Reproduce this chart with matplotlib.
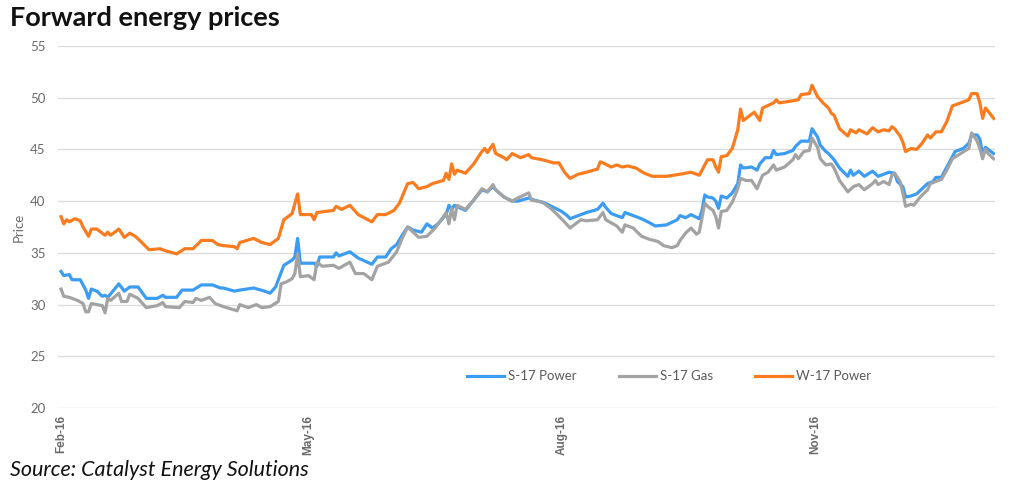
import pandas as pd
import matplotlib
matplotlib.use("Agg")
import matplotlib.pyplot as plt
import matplotlib.dates as mdates

# days counted from 1 Feb 2016
s17_power_day = [0, 1, 3, 4, 7, 9, 10, 11, 13, 15, 16, 17, 21, 23, 25, 28, 31, 35, 37, 38, 42, 44, 48, 51, 55, 58, 59,
                 63, 65, 70, 74, 76, 78, 81, 84, 85, 86, 87, 92, 93, 94, 99, 100, 101, 105, 108, 113, 115, 116, 118,
                 120, 122, 124, 126, 128, 131, 133, 135, 137, 140, 141, 142, 143, 147, 150, 153, 155, 157, 158, 161,
                 164, 166, 170, 172, 175, 176, 179, 182, 184, 185, 188, 191, 195, 197, 198, 200, 204, 205, 208, 211,
                 214, 216, 220, 224, 225, 227, 229, 232, 233, 234, 235, 237, 238, 239, 240, 242, 244, 246, 247, 248,
                 251, 253, 254, 256, 258, 259, 260, 263, 266, 267, 269, 272, 273, 275, 276, 278, 279, 281, 283, 286,
                 287, 288, 290, 292, 295, 297, 299, 301, 303, 304, 306, 307, 309, 311, 313, 315, 317, 318, 320, 322,
                 324, 325, 328, 330, 331, 333, 334, 335, 336, 337, 339]
s17_power = [33.2, 32.8, 32.9, 32.4, 32.4, 31.4, 30.6, 31.5, 31.3, 30.8, 30.9, 30.7, 32.0, 31.3, 31.7, 31.7, 30.6, 30.6,
             30.9, 30.7, 30.7, 31.4, 31.4, 31.9, 31.9, 31.6, 31.6, 31.3, 31.4, 31.6, 31.3, 31.1, 31.7, 33.8, 34.3,
             34.6, 36.4, 34.0, 34.0, 33.7, 34.6, 34.6, 35.0, 34.7, 35.1, 34.5, 33.9, 34.6, 34.6, 34.6, 35.4, 35.8,
             36.7, 37.5, 37.2, 37.0, 37.8, 37.4, 37.8, 38.7, 39.6, 39.2, 39.6, 39.1, 40.1, 41.1, 40.9, 41.4, 41.1,
             40.4, 40.0, 40.0, 40.3, 40.1, 39.9, 39.8, 39.4, 39.0, 38.6, 38.3, 38.6, 38.9, 39.2, 39.8, 39.4, 38.8,
             38.4, 38.9, 38.6, 38.3, 37.9, 37.6, 37.7, 38.2, 38.6, 38.4, 38.7, 38.3, 39.1, 40.6, 40.4, 40.3, 40.0,
             39.3, 40.5, 40.3, 40.8, 41.7, 43.5, 43.2, 43.3, 43.0, 43.6, 44.2, 44.2, 44.9, 44.5, 44.6, 44.9, 45.3,
             45.8, 45.8, 47.0, 46.2, 45.4, 44.8, 44.6, 44.0, 43.2, 42.4, 43.0, 42.5, 42.9, 42.4, 42.9, 42.4, 42.6,
             42.8, 42.7, 41.9, 41.4, 40.4, 40.5, 40.7, 41.2, 41.7, 41.9, 42.3, 42.3, 43.3, 44.3, 44.8, 45.1, 45.6,
             46.4, 46.4, 46.0, 44.5, 45.2, 45.0, 44.6]

s17_gas_day = [0, 1, 3, 6, 8, 9, 10, 11, 13, 15, 16, 17, 18, 21, 22, 24, 25, 28, 31, 35, 37, 38, 43, 45, 48, 49, 51,
               54, 56, 59, 64, 65, 68, 71, 73, 76, 79, 80, 82, 84, 85, 86, 87, 90, 92, 93, 95, 99, 101, 105, 107,
               110, 113, 115, 116, 118, 119, 122, 124, 126, 130, 133, 136, 139, 140, 141, 142, 143, 144, 147, 150,
               153, 155, 157, 158, 161, 164, 166, 170, 171, 175, 178, 180, 183, 185, 187, 189, 191, 195, 197, 198,
               202, 204, 205, 208, 211, 214, 217, 219, 222, 224, 225, 227, 229, 231, 232, 234, 235, 237, 238, 239,
               240, 242, 244, 246, 247, 249, 251, 253, 255, 257, 259, 260, 263, 266, 267, 268, 270, 272, 273, 275,
               276, 278, 280, 281, 283, 286, 288, 290, 292, 295, 296, 297, 299, 301, 302, 303, 305, 306, 307, 309,
               310, 312, 315, 316, 318, 320, 322, 324, 327, 330, 331, 333, 334, 335, 336, 337, 339]
s17_gas = [31.5, 30.8, 30.7, 30.4, 30.1, 29.3, 29.3, 30.1, 30.0, 29.9, 29.2, 30.6, 30.4, 31.1, 30.3, 30.3, 31.0, 30.6,
           29.7, 29.9, 30.2, 29.8, 29.7, 30.3, 30.2, 30.6, 30.4, 30.7, 30.1, 29.8, 29.4, 30.0, 29.7, 30.0, 29.7, 29.8,
           30.3, 32.0, 32.2, 32.5, 33.0, 34.9, 32.7, 32.8, 32.4, 34.1, 33.7, 33.8, 33.5, 34.1, 33.0, 33.0, 32.4, 33.7,
           33.8, 34.0, 34.1, 35.1, 36.4, 37.5, 36.5, 36.6, 37.4, 38.5, 38.9, 37.8, 39.3, 38.2, 39.6, 39.2, 40.1, 41.2,
           40.9, 41.6, 41.1, 40.4, 40.0, 40.3, 40.8, 40.1, 39.9, 39.3, 38.8, 38.0, 37.4, 37.8, 38.2, 38.1, 38.2, 38.9,
           38.2, 37.6, 37.0, 37.7, 37.4, 36.6, 36.3, 36.1, 35.7, 35.5, 35.7, 36.2, 36.9, 37.4, 36.8, 37.0, 39.8, 39.5,
           39.1, 38.5, 37.4, 39.0, 39.1, 39.9, 41.2, 42.2, 42.0, 42.0, 41.2, 42.5, 42.8, 43.5, 43.0, 43.3, 44.0, 44.5,
           44.1, 44.8, 44.9, 46.1, 45.2, 44.1, 43.5, 43.6, 43.2, 42.0, 40.9, 41.4, 41.6, 41.1, 41.7, 42.0, 41.6, 41.9,
           41.6, 42.5, 42.7, 41.9, 40.8, 39.5, 39.7, 39.6, 40.3, 41.1, 41.7, 41.9, 42.1, 43.0, 44.1, 44.6, 45.1, 46.6,
           45.8, 45.1, 44.1, 45.0, 44.6, 44.1]

w17_power_day = [0, 1, 2, 3, 5, 7, 8, 10, 11, 13, 16, 17, 18, 21, 23, 25, 27, 29, 32, 36, 38, 42, 45, 48, 51, 55, 57,
                 59, 63, 64, 65, 70, 73, 76, 79, 81, 84, 86, 87, 91, 92, 93, 99, 100, 102, 105, 108, 113, 115, 118,
                 121, 123, 126, 128, 130, 133, 135, 139, 140, 141, 142, 143, 144, 147, 150, 153, 154, 155, 157, 158,
                 161, 162, 164, 167, 170, 171, 175, 179, 181, 183, 185, 188, 191, 195, 196, 197, 200, 202, 204, 206,
                 209, 212, 215, 220, 225, 229, 232, 233, 235, 237, 238, 239, 240, 242, 244, 246, 247, 248, 250, 252,
                 254, 255, 259, 260, 261, 266, 268, 269, 272, 273, 275, 277, 279, 280, 281, 283, 286, 287, 289, 290,
                 293, 295, 297, 299, 301, 302, 303, 305, 306, 307, 309, 311, 313, 315, 316, 318, 320, 322, 324, 327,
                 330, 331, 333, 334, 335, 336, 337, 339]
w17_power = [38.5, 37.8, 38.2, 38.0, 38.3, 38.1, 37.5, 36.6, 37.3, 37.3, 36.7, 37.0, 36.7, 37.3, 36.5, 36.9, 36.6,
             36.1, 35.3, 35.4, 35.2, 34.9, 35.4, 35.4, 36.2, 36.2, 35.8, 35.7, 35.6, 35.4, 36.0, 36.4, 36.0, 35.8,
             36.4, 38.2, 38.8, 40.7, 38.7, 38.7, 38.2, 38.9, 39.1, 39.5, 39.2, 39.6, 38.7, 38.0, 38.7, 38.7, 39.1,
             39.8, 41.7, 41.8, 41.2, 41.4, 41.7, 42.0, 42.7, 42.1, 43.6, 42.6, 43.0, 42.7, 43.6, 44.8, 45.1, 44.7,
             45.5, 44.6, 44.2, 44.0, 44.6, 44.2, 44.5, 44.2, 44.0, 43.7, 43.7, 42.8, 42.2, 42.6, 42.8, 43.1, 43.8,
             43.7, 43.3, 43.5, 43.3, 43.4, 43.2, 42.7, 42.4, 42.4, 42.6, 42.8, 42.5, 43.0, 44.0, 44.0, 43.3, 42.8,
             44.3, 44.4, 45.1, 46.9, 48.9, 47.8, 48.2, 48.6, 47.8, 49.0, 49.5, 49.8, 49.5, 49.7, 49.8, 50.3, 50.4,
             51.2, 50.1, 49.5, 49.0, 48.5, 48.3, 47.0, 46.3, 46.9, 46.6, 46.9, 46.5, 47.1, 46.7, 46.9, 46.8, 47.2,
             47.0, 46.3, 45.7, 44.8, 45.1, 45.0, 45.6, 46.4, 46.1, 46.7, 46.7, 47.7, 49.2, 49.5, 49.8, 50.4, 50.4,
             49.5, 48.0, 49.0, 48.7, 48.0]

start = pd.Timestamp("2016-02-01")
month_ticks = ["2016-02-01", "2016-05-01", "2016-08-01", "2016-11-01"]


def to_dates(days):
    return start + pd.to_timedelta(days, unit="D")


plt.rcParams['font.family'] = ['Lato', 'DejaVu Sans']

fig = plt.figure(figsize=(10.24, 4.91), dpi=100)
ax = fig.add_axes([58 / 1024, 1 - 408 / 491, 937 / 1024, 362 / 491])

ax.plot(to_dates(s17_power_day), s17_power, color='#3b9cf2', lw=2.3, label='S-17 Power')
ax.plot(to_dates(s17_gas_day), s17_gas, color='#a3a3a3', lw=2.3, label='S-17 Gas')
ax.plot(to_dates(w17_power_day), w17_power, color='#fb7b1f', lw=2.3, label='W-17 Power')

ax.set_ylim(20, 55)
ax.set_yticks(range(20, 56, 5))
ax.set_xlim(start - pd.Timedelta(days=1.1), start + pd.Timedelta(days=339.5))
ax.set_xticks(pd.to_datetime(month_ticks))
ax.xaxis.set_major_formatter(mdates.DateFormatter('%b-%y'))

ax.grid(axis='y', color='#dcdcdc', lw=1)
ax.set_axisbelow(True)
for s in ax.spines.values():
    s.set_visible(False)
ax.tick_params(axis='y', length=0, pad=9, labelsize=9.5, labelcolor='#6a6a6a')
ax.tick_params(axis='x', length=0, pad=5)
for lbl in ax.get_xticklabels():
    lbl.set_rotation(90)
    lbl.set_fontfamily('Liberation Sans')
    lbl.set_fontweight('bold')
    lbl.set_fontsize(8.5)
    lbl.set_color('#6a6a6a')
    lbl.set_va('top')

ax.set_ylabel('Price', fontsize=9.5, color='#6a6a6a', labelpad=4)

ax.legend(loc='center', bbox_to_anchor=(0.652, 0.088), ncol=3, frameon=False,
          fontsize=9.5, handlelength=2.8, columnspacing=3.2, handletextpad=0.3,
          labelcolor='#595959')

fig.text(10 / 1024, 1 - 18 / 491, 'Forward energy prices', fontsize=19.5, fontweight='bold',
         va='center', ha='left', color='#111111')
fig.text(10 / 1024, 1 - 470 / 491, 'Source: Catalyst Energy Solutions', fontsize=15.5,
         style='italic', va='center', ha='left', color='#111111')

fig.savefig('out.png', dpi=100)
